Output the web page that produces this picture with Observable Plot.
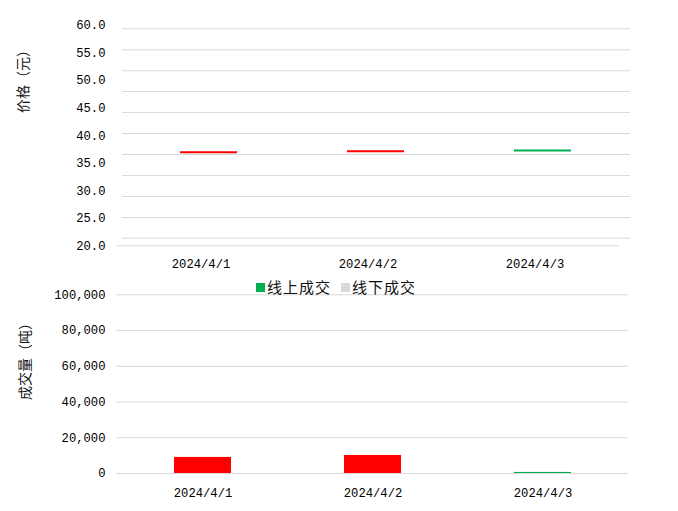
<!DOCTYPE html>
<html>
<head>
<meta charset="utf-8">
<script src="https://cdn.jsdelivr.net/npm/d3@7"></script>
<script src="https://cdn.jsdelivr.net/npm/@observablehq/plot@0.6"></script>
<style>
  html, body { margin: 0; padding: 0; background: #fff; }
  #wrap { position: relative; width: 678px; height: 511px; overflow: hidden; background: #fff; }
  #topChart, #bottomChart { position: absolute; left: 0; }
  #topChart { top: 0; }
  #bottomChart { top: 280px; }
  #legend { position: absolute; top: 277px; left: 256px; height: 20px; display: flex; align-items: center;
            font-family: "Noto Sans CJK SC", sans-serif; font-size: 15px; letter-spacing: 1px; color: #111; line-height: 20px; }
  #legend .sw { display: inline-block; width: 9px; height: 9px; margin-right: 2px; }
  #legend .item { display: flex; align-items: center; }
  #legend .item + .item { margin-left: 10px; }
  .ytitle { position: absolute; transform: translate(-50%, -50%) rotate(-90deg); white-space: nowrap;
            font-family: "Noto Sans CJK SC", sans-serif; font-size: 14px; line-height: 16px; color: #111; }
</style>
</head>
<body>
<div id="wrap">
  <div id="topChart"></div>
  <div id="bottomChart"></div>
  <div id="legend"></div>
  <div id="priceTitle" class="ytitle" style="left:22px; top:78px;"></div>
  <div id="volumeTitle" class="ytitle" style="left:24px; top:358px;"></div>
</div>
<script>
// ---- data ----
const dates = ["2024/4/1", "2024/4/2", "2024/4/3"];
const prices = [37.0, 37.18, 37.3];
const volumes = [9000, 10100, 600];
const dayColors = ["#FF0000", "#FF0000", "#00B050"];
const priceTicks = [20, 25, 30, 35, 40, 45, 50, 55, 60];
const priceGrid = [21.38, 25.14, 28.95, 32.76, 36.58, 40.39, 44.2, 48.02, 51.77, 55.59, 59.4];
const volumeTicks = [0, 20000, 40000, 60000, 80000, 100000];
const legendNames = ["线上成交", "线下成交"];
const legendColors = ["#00B050", "#D9D9D9"];
const priceTitle = "价格（元）";
const volumeTitle = "成交量（吨）";

const rows = dates.map((d, i) => ({date: d, price: prices[i], volume: volumes[i], color: dayColors[i]}));

const baseStyle = {fontFamily: "'Liberation Mono', monospace", fontSize: "12.2px", color: "#000", background: "transparent"};
const gridColor = "#D9D9D9";

const priceChart = Plot.plot({
  width: 678, height: 276,
  marginLeft: 116, marginRight: 59, marginTop: 25, marginBottom: 30.7,
  style: baseStyle,
  x: {domain: dates, type: "band", paddingInner: 0.66, paddingOuter: 0.33, label: null},
  y: {domain: [20, 60], label: null},
  color: {type: "identity"},
  marks: [
    Plot.ruleY(priceGrid, {stroke: gridColor, insetLeft: 6, insetRight: -11}),
    Plot.ruleY([20], {stroke: gridColor}),
    Plot.axisY({ticks: priceTicks, tickFormat: d3.format(".1f"), tickSize: 0, tickPadding: 11, label: null}),
    Plot.axisX({tickSize: 0, tickPadding: 14, label: null}),
    Plot.tickY(rows, {x: "date", y: "price", stroke: "color", strokeWidth: 2, dx: 8})
  ]
});
document.getElementById("topChart").appendChild(priceChart);

const volumeChart = Plot.plot({
  width: 678, height: 231,
  marginLeft: 116, marginRight: 50, marginTop: 14.3, marginBottom: 38,
  style: baseStyle,
  x: {domain: dates, type: "band", paddingInner: 0.665, paddingOuter: 0.3325, label: null},
  y: {domain: [0, 100000], label: null},
  color: {type: "identity"},
  marks: [
    Plot.gridY(volumeTicks, {stroke: gridColor, strokeOpacity: 1}),
    Plot.axisY({ticks: volumeTicks, tickFormat: d3.format(","), tickSize: 0, tickPadding: 11, label: null}),
    Plot.axisX({tickSize: 0, tickPadding: 14.4, label: null}),
    Plot.barY(rows, {x: "date", y: "volume", fill: "color"})
  ]
});
document.getElementById("bottomChart").appendChild(volumeChart);

document.getElementById("priceTitle").textContent = priceTitle;
document.getElementById("volumeTitle").textContent = volumeTitle;

const legendEl = document.getElementById("legend");
legendNames.forEach((n, i) => {
  const item = document.createElement("span");
  item.className = "item";
  const sw = document.createElement("span");
  sw.className = "sw";
  sw.style.background = legendColors[i];
  const t = document.createElement("span");
  t.textContent = n;
  item.appendChild(sw);
  item.appendChild(t);
  legendEl.appendChild(item);
});
</script>
</body>
</html>
